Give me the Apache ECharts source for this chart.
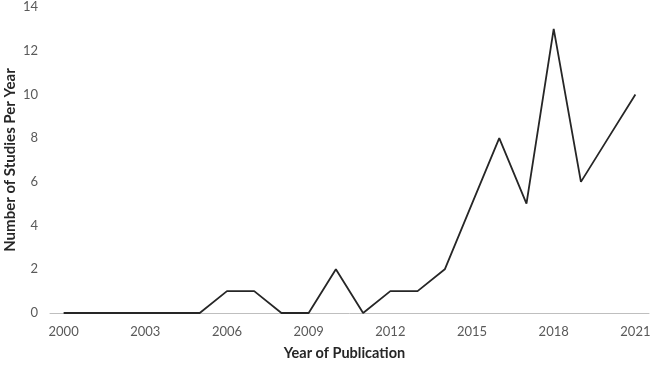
<!DOCTYPE html>
<html><head><meta charset="utf-8">
<script src="https://cdn.jsdelivr.net/npm/echarts@6/dist/echarts.min.js"></script>
<style>html,body{margin:0;padding:0;background:#fff}#c{width:650px;height:366px}</style>
</head><body><div id="c"></div>
<script>
const years = ['2000','2001','2002','2003','2004','2005','2006','2007','2008','2009','2010','2011','2012','2013','2014','2015','2016','2017','2018','2019','2020','2021'];
const studies = [0,0,0,0,0,0,1,1,0,0,2,0,1,1,2,5,8,5,13,6,8,10];
const yTicks = [0,2,4,6,8,10,12,14];
const chart = echarts.init(document.getElementById('c'));
const font = 'Lato, "Open Sans", "Liberation Sans", sans-serif';
chart.setOption({
  animation: false,
  grid: {left: 50, right: 1, top: 7, bottom: 53, containLabel: false, outerBoundsMode: 'none'},
  xAxis: {
    type: 'category', data: years, boundaryGap: true,
    name: 'Year of Publication', nameLocation: 'middle', nameGap: 33, nameMoveOverlap: false,
    nameTextStyle: {fontFamily: font, fontWeight: 'bold', fontSize: 14.5, color: '#262626', padding: [0, 10, 0, 0]},
    axisLine: {lineStyle: {color: '#bfbfbf', width: 1}},
    axisTick: {show: false},
    axisLabel: {interval: 2, color: '#595959', fontFamily: font, fontSize: 13, margin: 12},
    splitLine: {show: false}
  },
  yAxis: {
    type: 'value', min: yTicks[0], max: yTicks[yTicks.length-1], interval: 2,
    name: 'Number of Studies Per Year', nameLocation: 'middle', nameGap: 32, nameMoveOverlap: false,
    nameTextStyle: {fontFamily: font, fontWeight: 'bold', fontSize: 15, color: '#262626'},
    axisLine: {show: false}, axisTick: {show: false},
    axisLabel: {color: '#595959', fontFamily: font, fontSize: 13, margin: 12},
    splitLine: {show: false}
  },
  series: [{type: 'line', data: studies, symbol: 'none', lineStyle: {color: '#262626', width: 1.8}}]
});
</script></body></html>
